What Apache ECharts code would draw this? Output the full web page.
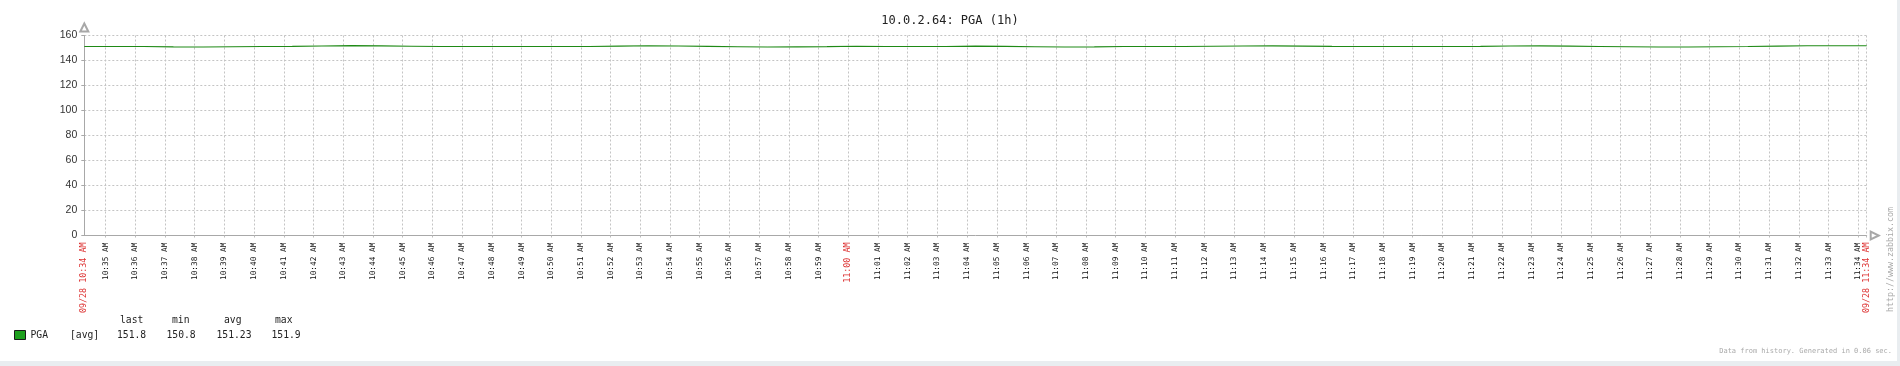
<!DOCTYPE html>
<html>
<head>
<meta charset="utf-8">
<script src="https://cdn.jsdelivr.net/npm/echarts@6/dist/echarts.min.js"></script>
<style>
html,body{margin:0;padding:0;background:#fff;}
#chart{width:1900px;height:366px;}
</style>
</head>
<body>
<div id="chart"></div>
<script>
// ---- data ----
const chartTitle = '10.0.2.64: PGA (1h)';
const seriesName = 'PGA';
const rangeStart = '10:34:17';   // graph period start (1h)
const rangeEnd = '11:34:17';
const rangeStartLabel = '09/28 10:34 AM';
const rangeEndLabel = '09/28 11:34 AM';
const highlightLabel = '11:00 AM';
const tickLabels = [
  '10:35 AM','10:36 AM','10:37 AM','10:38 AM','10:39 AM','10:40 AM','10:41 AM','10:42 AM','10:43 AM','10:44 AM',
  '10:45 AM','10:46 AM','10:47 AM','10:48 AM','10:49 AM','10:50 AM','10:51 AM','10:52 AM','10:53 AM','10:54 AM',
  '10:55 AM','10:56 AM','10:57 AM','10:58 AM','10:59 AM','11:00 AM','11:01 AM','11:02 AM','11:03 AM','11:04 AM',
  '11:05 AM','11:06 AM','11:07 AM','11:08 AM','11:09 AM','11:10 AM','11:11 AM','11:12 AM','11:13 AM','11:14 AM',
  '11:15 AM','11:16 AM','11:17 AM','11:18 AM','11:19 AM','11:20 AM','11:21 AM','11:22 AM','11:23 AM','11:24 AM',
  '11:25 AM','11:26 AM','11:27 AM','11:28 AM','11:29 AM','11:30 AM','11:31 AM','11:32 AM','11:33 AM','11:34 AM'
];
// one sample per minute starting at rangeStart
const pgaValues = [
  151.2,151.2,151.2,150.9,150.8,151.0,151.2,151.3,151.6,151.9,
  151.7,151.4,151.2,151.2,151.2,151.2,151.2,151.2,151.5,151.8,
  151.6,151.3,151.0,150.8,150.9,151.1,151.4,151.2,151.2,151.2,
  151.5,151.3,151.0,150.8,150.9,151.2,151.2,151.2,151.4,151.6,
  151.7,151.5,151.3,151.2,151.2,151.2,151.2,151.3,151.6,151.7,
  151.5,151.2,151.0,150.8,150.8,151.0,151.2,151.5,151.8,151.8,
  151.8
];
const yTicks = [0,20,40,60,80,100,120,140,160];
const statHeaders = ['last','min','avg','max'];
const statValues = ['151.8','150.8','151.23','151.9'];
const statFunction = '[avg]';
const footerText = 'Data from history. Generated in 0.06 sec.';
const sideText = 'http://www.zabbix.com';

// ---- helpers ----
function toSec(hms){ const p = hms.split(':').map(Number); return p[0]*3600 + p[1]*60 + (p[2]||0); }
function labelToSec(l){ const m = l.match(/(\d+):(\d+)\s*(AM|PM)/); let h = +m[1] % 12; if (m[3]==='PM') h += 12; return h*3600 + (+m[2])*60; }
const xMin = toSec(rangeStart), xMax = toSec(rangeEnd);
const labelMap = {};
labelMap[xMin] = {text: rangeStartLabel, red: true};
const tickSecs = tickLabels.map(labelToSec);
tickLabels.forEach((l,i)=>{ labelMap[tickSecs[i]] = {text: l, red: l === highlightLabel}; });
labelMap[xMax] = {text: rangeEndLabel, red: true};
const labelValues = [xMin].concat(tickSecs, [xMax]);
const gridValues = tickSecs.concat([xMax]);
const seriesData = pgaValues.map((v,i)=>[xMin + i*60, v]);

const mono = 'DejaVu Sans Mono';
const chart = echarts.init(document.getElementById('chart'), null, {renderer:'canvas'});

const statX = [120, 172, 224, 275];
const valX = [117, 166.5, 216.5, 271.5];
const graphics = [
  {type:'rect', left:0, top:361, shape:{width:1900, height:5}, style:{fill:'#e9edf0'}, silent:true},
  {type:'rect', left:1897, top:0, shape:{width:3, height:366}, style:{fill:'#e9edf0'}, silent:true},
  {type:'text', left:70, top:330, style:{text: statFunction, font:'9.7px "'+mono+'"', fill:'#222'}},
  {type:'text', right:8, top:348, style:{text: footerText, font:'7px "'+mono+'"', fill:'#aaa'}},
  {type:'text', x:1887, y:312, rotation:Math.PI/2, style:{text: sideText, font:'8.3px "'+mono+'"', fill:'#aaa', textVerticalAlign:'top'}}
];
statHeaders.forEach((h,i)=>graphics.push({type:'text', left:statX[i], top:315, style:{text:h, font:'9.7px "'+mono+'"', fill:'#222'}}));
statValues.forEach((v,i)=>graphics.push({type:'text', left:valX[i], top:330, style:{text:v, font:'9.7px "'+mono+'"', fill:'#222'}}));

chart.setOption({
  animation:false,
  backgroundColor:'#ffffff',
  title:{text:chartTitle, left:'center', top:10, textStyle:{fontFamily:mono, fontSize:12, fontWeight:'normal', color:'#222'}},
  grid:{left:84.3, right:33.3, top:35.5, bottom:130.5, containLabel:false},
  legend:{
    left:14, top:330, padding:0, itemWidth:11, itemHeight:9, icon:'rect',
    data:[{name:seriesName, itemStyle:{color:'#1ea01e', borderColor:'#1a1a1a', borderWidth:1}}],
    textStyle:{fontFamily:mono, fontSize:9.7, color:'#222'}
  },
  xAxis:{
    type:'value', min:xMin, max:xMax,
    axisLine:{show:true, lineStyle:{color:'#a8a8a8', width:1}, symbol:['none','emptyTriangle'], symbolSize:[8,8], symbolOffset:[0,8]},
    axisTick:{show:true, length:2, lineStyle:{color:'#bbb'}, customValues:gridValues},
    axisLabel:{
      customValues:labelValues, rotate:90, margin:7, fontFamily:mono, fontSize:7.8, color:'#111',
      formatter:function(v){ const l = labelMap[v]; if(!l) return ''; return l.red ? '{r|'+l.text+'}' : l.text; },
      rich:{r:{color:'#dd3333', fontFamily:mono, fontSize:8.4}}
    },
    splitLine:{show:true, lineStyle:{color:'#c4c4c4', type:[2,2], width:1}}
  },
  yAxis:{
    type:'value', min:0, max:160, interval:20,
    axisLine:{show:true, lineStyle:{color:'#a8a8a8', width:1}, symbol:['none','emptyTriangle'], symbolSize:[8,8], symbolOffset:[0,8]},
    axisTick:{show:true, length:3, inside:false, lineStyle:{color:'#a8a8a8'}},
    axisLabel:{margin:7, fontFamily:'Liberation Sans', fontSize:10.5, color:'#333',
      formatter:function(v){ return yTicks.indexOf(v) >= 0 ? String(v) : ''; }},
    splitLine:{show:true, lineStyle:{color:'#c4c4c4', type:[2,2], width:1}}
  },
  series:[{
    name:seriesName, type:'line', data:seriesData, showSymbol:false, smooth:false,
    lineStyle:{color:'#1f8a16', width:1.2}, itemStyle:{color:'#1f8a16'}
  }],
  graphic:graphics
});
</script>
</body>
</html>
